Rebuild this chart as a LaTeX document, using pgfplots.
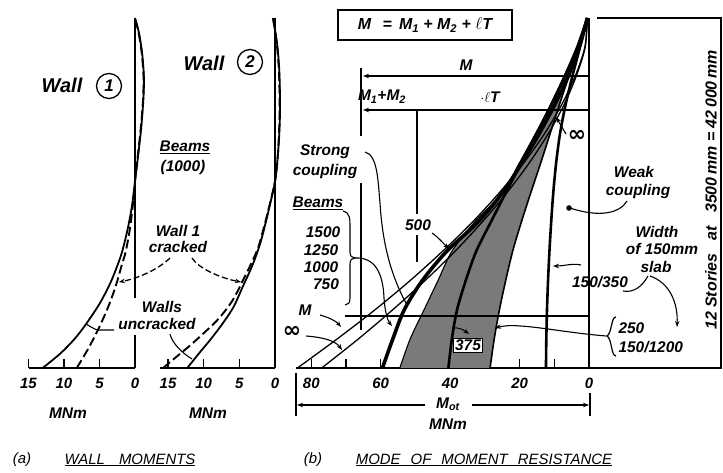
\documentclass[border=0pt]{standalone}
\usepackage{fontspec}
\setmainfont{Liberation Sans}
\newfontfamily\djv{DejaVu Sans}
\usepackage{pgfplots}
\pgfplotsset{compat=1.18}
\usetikzlibrary{arrows.meta}
\newcommand\lab{\fontsize{15.5}{17}\selectfont\bfseries\itshape}
\newcommand\tk{\fontsize{15}{17}\selectfont\bfseries\itshape}
\newcommand\capf{\fontsize{15}{17}\selectfont\itshape}
\newcommand\inft{{\djv\bfseries\fontsize{22}{22}\selectfont ∞}}
\begin{document}
\begin{tikzpicture}[x=1bp,y=1bp,font=\lab,>={Stealth[length=6bp,width=4.5bp]}]
\useasboundingbox (0,0) rectangle (723,473);
\pgfplotsset{panel/.style={scale only axis, anchor=south west, x dir=reverse,
  ymin=0, ymax=12, height=350bp, axis x line=bottom, axis y line=none,
  axis line style={-,line width=1.3bp}, clip=false, tick align=inside,
  major tick length=9bp, tick style={line width=1.3bp,black},
  xticklabel style={font=\tk, yshift=-7bp},
  /pgf/number format/assume math mode=true, ytick=\empty}}

% ---------- Wall 1 ----------
\begin{axis}[panel, at={(28.5bp,105bp)}, width=106.5bp, xmin=0, xmax=15, xtick={0,5,10,15}]
\addplot[line width=1.2bp] coordinates {(0,0) (0,1.13)};
\addplot[line width=1.2bp] coordinates {(0,2.4) (0,12)};
\addplot[smooth, line width=1.8bp] coordinates {(13,0) (10.5,0.5) (8.5,1) (7,1.47) (5,2.2) (3.5,2.9) (2.5,3.5) (1.8,4) (1.0,4.8) (0.4,5.6) (0,6.4) (-0.45,7.3) (-0.9,8.3) (-1.2,9.3) (-1.25,10) (-1.0,10.8) (-0.55,11.5) (0,12)};
\addplot[smooth, line width=1.9bp, dash pattern=on 9bp off 4bp] coordinates {(8.2,0) (6.5,0.7) (4.9,1.47) (3.6,2.2) (2.6,2.9) (1.9,3.5) (1.3,4) (0.7,4.8) (0.3,5.6) (0,6.4) (-0.4,7.3) (-0.85,8.3) (-1.15,9.3) (-1.2,10) (-0.95,10.8) (-0.5,11.5) (0,12)};
\end{axis}

% ---------- Wall 2 ----------
\begin{axis}[panel, at={(159.5bp,105bp)}, width=115.5bp, xmin=0, xmax=16.2, xtick={0,5,10,15}]
\addplot[line width=1.2bp] coordinates {(0,0) (0,12)};
\addplot[smooth, line width=1.8bp] coordinates {(12.3,0) (10.5,0.55) (9.1,0.96) (7.3,1.54) (5.8,2.1) (4.5,2.8) (3.2,3.5) (2.3,4.1) (1.7,4.6) (0.9,5.4) (0,6.4) (-0.4,7.3) (-0.65,8.3) (-0.7,9.2) (-0.6,10.2) (-0.35,11) (0,11.6) (0.3,12)};
\addplot[smooth, line width=1.9bp, dash pattern=on 9bp off 4bp] coordinates {(15.7,0) (13.5,0.45) (11.5,0.86) (8.1,1.64) (6,2.3) (4.5,3.0) (3.3,3.6) (2.4,4.1) (1.8,4.6) (0.95,5.4) (0,6.4) (-0.4,7.3) (-0.6,8.3) (-0.65,9.2) (-0.55,10.2) (-0.3,11) (0,11.6) (0.3,12)};
\end{axis}

% ---------- Panel b ----------
\begin{axis}[panel, at={(296bp,105bp)}, width=293bp, xmin=0, xmax=84.4,
  xtick={0,10,...,80}, xticklabels={0,,20,,40,,60,,80}]
% shaded bands
\addplot[smooth, tension=0.5, draw=none, fill=black!52] coordinates {(54.5,0) (51.5,1) (47.5,2) (43.5,3) (39.5,4) (33,5) (25,6) (20.2,7) (15.6,8) (11.2,9) (7.2,10) (3.5,11) (0.5,12) (3.4,11) (7,10) (11,9) (15.2,8) (19.6,7) (24,6) (28.3,5) (32.5,4) (35.5,3) (38,2) (39.5,1) (40.5,0)};
\addplot[smooth, tension=0.5, draw=none, fill=black!52] coordinates {(40.5,0) (39.5,1) (38,2) (35.5,3) (32.5,4) (28.3,5) (24,6) (19.6,7) (15.2,8) (11,9) (7,10) (3.4,11) (0.5,12) (3,11) (5.8,10) (8.6,9) (11.3,8) (14,7) (16.8,6) (19.5,5) (22,4) (24,3) (25.8,2) (27.3,1) (28.5,0)};
% boundaries
\addplot[smooth, line width=1.1bp] coordinates {(54.5,0) (51.5,1) (47.5,2) (43.5,3) (39.5,4) (33,5) (25,6) (20.2,7) (15.6,8) (11.2,9) (7.2,10) (3.5,11) (0.5,12)};
\addplot[smooth, line width=2.6bp] coordinates {(40.5,0) (39.5,1) (38,2) (35.5,3) (32.5,4) (28.3,5) (24,6) (19.6,7) (15.2,8) (11,9) (7,10) (3.4,11) (0.5,12)};
\addplot[smooth, line width=1.6bp] coordinates {(28.5,0) (27.3,1) (25.8,2) (24,3) (22,4) (19.5,5) (16.8,6) (14,7) (11.3,8) (8.6,9) (5.8,10) (3,11) (0.5,12)};
% strong coupling lines
\addplot[smooth, line width=1.3bp] coordinates {(84,0) (72.5,1) (61.6,2) (51.5,3) (42.2,4) (33.6,5) (25.9,6) (19.0,7) (13.0,8) (8.0,9) (4.0,10) (1.2,11) (0.5,12)};
\addplot[smooth, line width=1.3bp] coordinates {(77,0) (66.4,1) (56.5,2) (47.2,3) (38.6,4) (30.8,5) (23.7,6) (17.4,7) (11.9,8) (7.3,9) (3.7,10) (1.1,11) (0.5,12)};
\addplot[smooth, line width=3.6bp] coordinates {(59.5,0) (56.5,1) (53.2,2) (48,3) (41,4) (32,5) (25,6) (19.5,7) (14.5,8) (10,9) (6,10) (2.8,11) (0.5,12)};
% weak coupling
\addplot[smooth, line width=2.6bp] coordinates {(12.4,0) (12.3,1) (12.1,2) (11.8,3) (11.4,4) (10.9,5) (10.3,6) (9.5,7) (8.4,8) (6.8,9) (4.8,10) (2.6,11) (0.5,12)};
% M = 0 line
\addplot[line width=1.3bp] coordinates {(0,0) (0,12)};
\end{axis}

% ---------- panel b annotations ----------
\draw[line width=1.3bp] (338,433) rectangle (512,463);
\node[font=\fontsize{16}{18}\selectfont\bfseries\itshape] at (425,448) {M \ \,=\ \,M\textsubscript{1} + M\textsubscript{2} + $\ell$T};
\draw[line width=1.1bp,<-] (363,397) -- (589,397);
\draw[line width=1.1bp,<-] (363,363) -- (589,363);
\draw[line width=1.3bp] (361,405) -- (361,337);
\draw[line width=1.3bp] (361,290) -- (361,143);
\draw[line width=1.1bp] (417,363) -- (417,259);
\draw[line width=1.1bp] (417,238) -- (417,211);
\draw[line width=1.1bp] (345,157) -- (589,157);
\node at (466,408) {M};
\node at (382,376) {M\textsubscript{1}+M\textsubscript{2}};
\node at (490,376) {$\cdot\ell$T};
% right frame
\draw[line width=1.3bp] (597,455) -- (722,455);
\draw[line width=1.6bp] (721,455) -- (721,105);
\draw[line width=1.3bp] (589,105) -- (722,105);
\node[rotate=90,font=\fontsize{16}{18}\selectfont\bfseries\itshape] at (711,283) {12 Stories\ \ \ at\ \ \ 3500\,mm = 42\,000\,mm};
% Mot dimension
\draw[line width=1.3bp] (296,100) -- (296,57);
\draw[line width=1.3bp] (590,80) -- (590,57);
\draw[line width=1.1bp,<-] (297,68) -- (425,68);
\draw[line width=1.1bp,->] (472,68) -- (589,68);
\node at (448,69) {M\textsubscript{ot}};
\node at (448,49) {MNm};
% labels
\node at (325,321) {Strong};
\node at (325,301) {coupling};
\node at (318,270) {\underline{Beams}};
\node at (323,241) {1500};
\node at (321,223) {1250};
\node at (321,206) {1000};
\node at (326,189) {750};
\node at (305,163) {M};
\node at (292,141) {\inft};
\node at (418,248) {500};
\node[draw, line width=0.8bp, inner sep=1.5bp, fill=white] at (468,128) {375};
\node at (577,337) {\inft};
\node at (634,301) {Weak};
\node at (638,281) {coupling};
\node at (657,241) {Width};
\node at (662,224) {of 150mm};
\node at (656,206) {slab};
\node at (600,191) {150/350};
\node[anchor=west] at (615,145) {250};
\node[anchor=west] at (615,126) {150/1200};
\draw[line width=1.2bp] (616,156) .. controls (611,156) and (612,140) .. (607,137) .. controls (612,134) and (611,117) .. (616,117);
% leaders
\draw[line width=1.1bp] (365,321) .. controls (378,318) and (378,290) .. (380,270) .. controls (383,220) and (395,190) .. (407,168);
\draw[line width=1.1bp] (343,262) .. controls (350,260) and (350,255) .. (350,245) -- (350,221) .. controls (350,217) and (352,215) .. (355,215) .. controls (352,215) and (350,213) .. (350,209) -- (350,175) .. controls (350,170) and (348,168) .. (345,168);
\draw[line width=1.1bp,->] (355,215) .. controls (375,216) and (383,200) .. (384,175) .. controls (385,160) and (388,152) .. (392,147);
\draw[line width=1.1bp,->] (320,158) .. controls (330,155) and (336,152) .. (341,146);
\draw[line width=1.1bp,->] (306,137) .. controls (320,136) and (335,133) .. (342,123);
\draw[line width=1.1bp,->] (432,240) .. controls (438,236) and (443,230) .. (449,224);
\draw[line width=1bp,->] (452,145) .. controls (460,146) and (465,142) .. (469,139);
\draw[line width=1.1bp,->] (566,339) -- (556,356);
\draw[line width=1.1bp] (627,272) .. controls (620,260) and (600,255) .. (570,265);
\fill (569,265) circle (2.8bp);
\draw[line width=1.1bp,->] (581,208) .. controls (572,210) and (565,207) .. (553,207);
\draw[line width=1.1bp] (648,197) .. controls (642,186) and (633,180) .. (623,182);
\draw[line width=1.1bp,->] (650,197) .. controls (670,190) and (678,170) .. (677,146);
\draw[line width=1.1bp,->] (606,137) .. controls (570,140) and (540,146) .. (520,147) .. controls (510,148) and (503,147) .. (495,145);

% ---------- panel a annotations ----------
\node[font=\fontsize{20}{22}\selectfont\bfseries\itshape] at (62,388) {Wall};
\node[draw,circle,line width=1.3bp,minimum size=25bp,inner sep=0pt,font=\fontsize{17}{18}\selectfont\bfseries\itshape] at (109,387) {1};
\node[font=\fontsize{20}{22}\selectfont\bfseries\itshape] at (204,410) {Wall};
\node[draw,circle,line width=1.3bp,minimum size=25bp,inner sep=0pt,font=\fontsize{17}{18}\selectfont\bfseries\itshape] at (250,411) {2};
\node at (185,326) {\underline{Beams}};
\node at (183,305) {(1000)};
\node at (178,242) {Wall 1};
\node at (178,226) {cracked};
\node at (162,166) {Walls};
\node at (157,149) {uncracked};
\node at (68,60) {MNm};
\node at (208,60) {MNm};
\draw[line width=1.3bp, dash pattern=on 6bp off 3bp,->] (170,215) .. controls (160,205) and (140,195) .. (119,191);
\draw[line width=1.3bp, dash pattern=on 6bp off 3bp,->] (192,215) .. controls (198,205) and (220,195) .. (241,191);
\draw[line width=1.1bp] (114,143) -- (98,143) .. controls (93,144) and (90,147) .. (86,149);
\draw[line width=1.1bp] (170,139) .. controls (172,130) and (182,120) .. (192,114);

% captions
\node[font=\capf] at (22,13) {(a)};
\node[font=\capf] at (130,13) {\underline{WALL\hspace{14bp}MOMENTS}};
\node[font=\capf] at (313,13) {(b)};
\node[font=\capf] at (484,13) {\underline{MODE\hspace{10bp}OF\hspace{10bp}MOMENT\hspace{10bp}RESISTANCE}};
\end{tikzpicture}
\end{document}
